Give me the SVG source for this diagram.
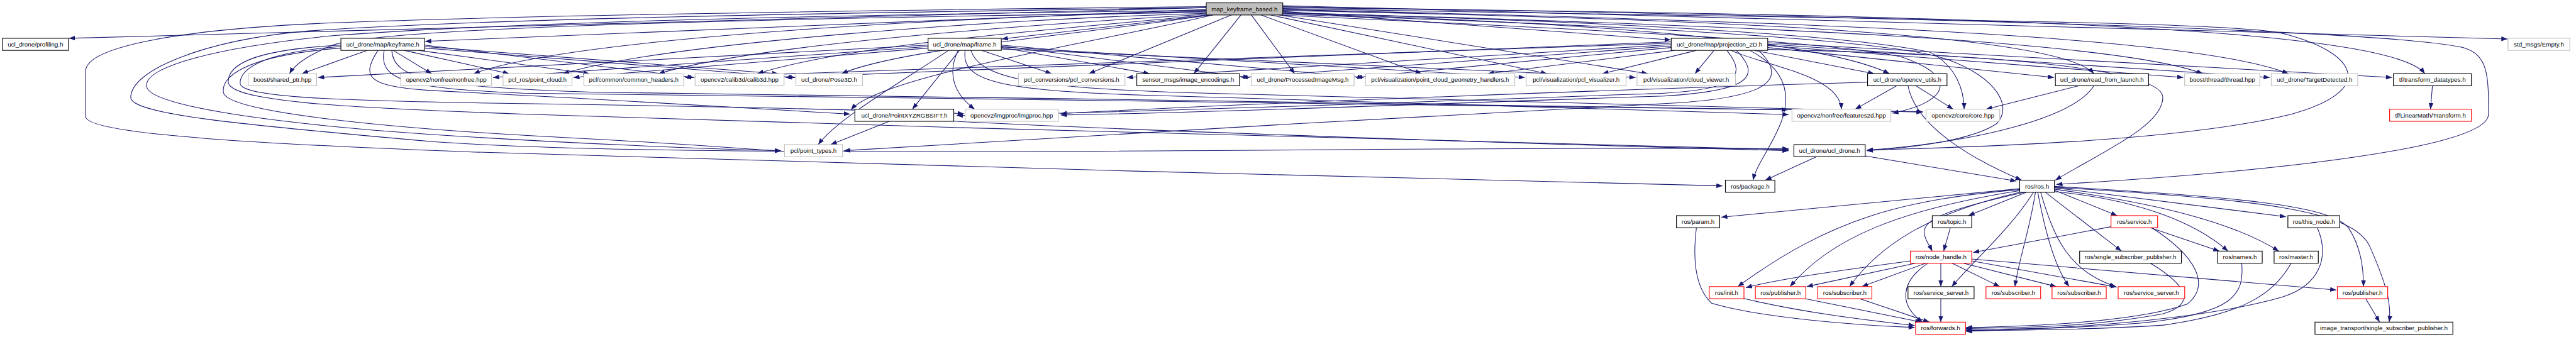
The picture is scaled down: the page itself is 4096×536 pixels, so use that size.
<svg xmlns="http://www.w3.org/2000/svg" width="4096" height="536" viewBox="0 0 4096 536">
<defs>
<marker id="a" markerUnits="userSpaceOnUse" markerWidth="13" markerHeight="10" viewBox="0 0 13 10" refX="13" refY="5" orient="auto"><path d="M0,0 L13,5 L0,10 z" fill="#191970"/></marker>
<style>
.e{fill:none;stroke:#191970;stroke-width:1.4;marker-end:url(#a)}
rect{fill:#fff;stroke-width:1.5}
.doc{stroke:#000}
.ext{stroke:#bfbfbf}
.red{stroke:#ff0000}
.root{fill:#bfbfbf;stroke:#000}
text{font-family:"Liberation Sans",Arial,Helvetica,sans-serif;font-size:13px;text-anchor:middle;fill:#000}
</style>
</defs>
<rect x="0" y="0" width="4096" height="536" fill="#fff" stroke="none"/>
<g transform="scale(0.756)">
<g id="edges">
<path class="e" d="M2537,16 L145,80.5"/>
<path class="e" d="M2537,20 L894,87"/>
<path class="e" d="M2548,31.5 L2107,82"/>
<path class="e" d="M2698,24 L3514,84"/>
<path class="e" d="M2698,12 L5274,82"/>
<path class="e" d="M2590,31.5 L2290,155"/>
<path class="e" d="M2610,31.5 L2511,155"/>
<path class="e" d="M2632,31.5 L2723,155"/>
<path class="e" d="M2652,31.5 L2990,155"/>
<path class="e" d="M2672,31.5 L3254,155"/>
<path class="e" d="M2690,31.5 L3466,155"/>
<path class="e" d="M2698,28 C3300,45 3820,80 3974,155"/>
<path class="e" d="M2698,22 C3600,40 4330,70 4404,155"/>
<path class="e" d="M2698,26 C3700,55 4450,85 4633,155"/>
<path class="e" d="M2698,20 C3800,45 4620,75 4813,155"/>
<path class="e" d="M2698,16 C4000,30 5020,50 5100,155"/>
<path class="e" d="M2698,14 C4300,40 5050,70 5180,100 C5234,115 5234,160 5234,240 C5234,310 4800,360 4325,388"/>
<path class="e" d="M2698,18 C3900,40 4700,45 4800,70 C4960,110 5000,190 4820,240 C4600,295 4200,308 3926,316"/>
<path class="e" d="M2698,30 C3500,55 3950,85 4080,120 C4180,150 4240,215 4200,260 C4140,300 4000,312 3926,317"/>
<path class="e" d="M2698,27 C3400,45 3900,75 4060,110 C4115,140 4131,190 4131,229.7"/>
<path class="e" d="M2698,32 C3300,60 3850,85 4000,120 C4120,160 4100,215 3980,238"/>
<path class="e" d="M2537,26 C1500,40 800,60 700,95 C650,115 620,135 609,155"/>
<path class="e" d="M2537,24 C2000,35 1200,80 996,155"/>
<path class="e" d="M2537,28 C2100,40 1400,90 1184,155"/>
<path class="e" d="M2537,30 C2200,50 1600,90 1385,155"/>
<path class="e" d="M2540,31.5 C2250,60 1800,90 1593,155"/>
<path class="e" d="M2545,31.5 C2300,70 1900,100 1770,155"/>
<path class="e" d="M2552,31.5 C2300,90 1850,160 1790,231"/>
<path class="e" d="M2537,14 C1800,22 1100,32 700,48 C400,60 180,95 180,150 L180,245 C180,285 600,305 1000,320 C1800,345 2800,372 3623,391"/>
<path class="e" d="M2537,16 C1700,28 1000,40 650,65 C420,85 275,150 275,205 C275,240 500,262 910,298 C1500,340 3000,305 3762,313"/>
<path class="e" d="M2537,22 C1800,30 1100,45 700,75 C450,100 308,140 308,180 C308,225 600,262 910,283 C1200,302 1500,314 1643,317"/>
<path class="e" d="M795,106 C760,160 770,182 900,190 C1200,205 1600,228 1788,240"/>
<path class="e" d="M808,106 C795,170 860,186 1100,196 C2000,210 3200,216 3760,231"/>
<path class="e" d="M824,106 C828,165 900,182 1250,194 C2200,208 3600,224 4044,235"/>
<path class="e" d="M717,95 C520,105 480,140 480,172 C480,212 700,226 1100,240 C2000,270 3200,302 3762,315"/>
<path class="e" d="M717,98 C545,110 505,148 505,175 C505,205 700,212 1100,218 C1500,224 1800,230 2027,239"/>
<path class="e" d="M717,101 C505,118 465,165 470,195 C478,235 800,270 1200,290 C1450,303 1550,312 1643,318"/>
<path class="e" d="M772,106 L635,155"/>
<path class="e" d="M827,106 L908,155"/>
<path class="e" d="M850,106 L1071,155"/>
<path class="e" d="M880,106 L1240,155"/>
<path class="e" d="M893,98 L1637,155"/>
<path class="e" d="M893,101 L1672,163"/>
<path class="e" d="M893,95 L1459,163"/>
<path class="e" d="M1952,95 L669,163"/>
<path class="e" d="M1952,98 L1037,163"/>
<path class="e" d="M1952,101 L1206,163"/>
<path class="e" d="M2018,106 L1919,229.7"/>
<path class="e" d="M2015,106 C1990,160 2010,200 2050,229.7"/>
<path class="e" d="M1995,106 C1900,170 1760,250 1721,304.3"/>
<path class="e" d="M2065,106 L2212,155"/>
<path class="e" d="M2106,100 L2418,155"/>
<path class="e" d="M2106,97 L2628,163"/>
<path class="e" d="M2106,95 L2868,163"/>
<path class="e" d="M2106,99 L3207,163"/>
<path class="e" d="M2106,103 L3440,163"/>
<path class="e" d="M2030,106 C2020,170 2100,190 2400,200 C3000,215 3500,236 3762,241"/>
<path class="e" d="M2042,106 C2060,160 2150,185 2500,195 C3200,210 3800,228 4044,236"/>
<path class="e" d="M3605,106 L3565,155"/>
<path class="e" d="M3568,106 L3370,155"/>
<path class="e" d="M3522,106 L3129,155"/>
<path class="e" d="M3515,100 L2852,163"/>
<path class="e" d="M3515,97 L2611,163"/>
<path class="e" d="M3515,94 L2370,163"/>
<path class="e" d="M3515,91 L1441,163"/>
<path class="e" d="M3515,88 L1652,163"/>
<path class="e" d="M3690,106 L3942,155"/>
<path class="e" d="M3718,100 L4320,163"/>
<path class="e" d="M3718,96 L4592,163"/>
<path class="e" d="M3718,93 L4774,163"/>
<path class="e" d="M3718,90 L5031,163"/>
<path class="e" d="M3640,106 C3720,140 3870,160 3873,229.7"/>
<path class="e" d="M3680,106 C3765,150 3765,210 3745,260 C3725,310 3695,345 3687,379"/>
<path class="e" d="M3632,106 C3680,165 3640,188 3500,196 C3000,214 2400,236 2012,243"/>
<path class="e" d="M3652,106 C3710,165 3670,192 3500,202 C3000,218 2600,236 2231,242"/>
<path class="e" d="M3699,106 C3770,175 3700,208 3500,218 C3000,242 2200,292 1775,317"/>
<path class="e" d="M3718,104 C4250,115 4549,150 4549,205 C4549,265 4420,320 4323,379"/>
<path class="e" d="M3928,173 C3500,185 2600,218 2231,239"/>
<path class="e" d="M3989,180.5 L3902,229.7"/>
<path class="e" d="M4030,180.5 L4108,229.7"/>
<path class="e" d="M4013,180.5 C4030,270 4160,340 4252,379"/>
<path class="e" d="M4372,180.5 L4177,229.7"/>
<path class="e" d="M4404,180.5 C4360,250 4150,300 3926,316"/>
<path class="e" d="M5116,180.5 L5112,229.7"/>
<path class="e" d="M1870,255.2 L1747,304.3"/>
<path class="e" d="M2006,255 C2500,280 3300,305 3762,317"/>
<path class="e" d="M3820,330 L3713,379"/>
<path class="e" d="M3923,328 L4241,381"/>
<path class="e" d="M4248,397 L3620,457"/>
<path class="e" d="M4248,399 C4000,420 3850,460 3655,603"/>
<path class="e" d="M4248,401 C4000,440 3850,500 3765,603"/>
<path class="e" d="M4250,404 C4050,450 3950,520 3890,603"/>
<path class="e" d="M4258,404.5 C4100,440 4045,460 4047,490 C4049,506 4058,516 4064,528.3"/>
<path class="e" d="M4262,404.5 L4140,453.7"/>
<path class="e" d="M4277,404.5 C4230,480 4150,550 4105,603"/>
<path class="e" d="M4281,404.5 C4270,480 4245,550 4238,603"/>
<path class="e" d="M4286,404.5 C4300,480 4320,560 4352,603"/>
<path class="e" d="M4292,404.5 C4320,500 4350,570 4450,603"/>
<path class="e" d="M4302,404.5 L4462,528.3"/>
<path class="e" d="M4321,400 L4453,453.7"/>
<path class="e" d="M4321,403 C4500,420 4620,470 4686,528.3"/>
<path class="e" d="M4321,398 C4550,430 4700,470 4793,528.3"/>
<path class="e" d="M4321,395 L4808,456"/>
<path class="e" d="M4321,392 C4700,415 4900,430 4940,480 C4965,520 4971,560 4971,603"/>
<path class="e" d="M4321,394 C4750,420 4950,440 4985,520 C5020,600 5030,640 5025,677.7"/>
<path class="e" d="M4102,479.2 L4088,528.3"/>
<path class="e" d="M4440,477 L4150,531"/>
<path class="e" d="M4523,479.2 L4668,528.3"/>
<path class="e" d="M4526,479.2 C4620,540 4650,600 4600,640 C4500,675 4300,686 4135,689"/>
<path class="e" d="M4018,549 C3900,565 3750,585 3672,605"/>
<path class="e" d="M4028,553.8 L3800,603"/>
<path class="e" d="M4050,553.8 L3916,603"/>
<path class="e" d="M4082,553.8 L4082,603"/>
<path class="e" d="M4106,553.8 L4206,603"/>
<path class="e" d="M4130,553.8 L4325,603"/>
<path class="e" d="M4147,549 L4452,604"/>
<path class="e" d="M4055,553.8 C4000,590 3990,640 4044,677.7"/>
<path class="e" d="M4147,545 L4914,610"/>
<path class="e" d="M3668,628 C3800,660 3950,676 4027,685"/>
<path class="e" d="M3798,628.5 L4041,677.7"/>
<path class="e" d="M3912,628.5 L4058,677.7"/>
<path class="e" d="M4082,628.5 L4082,677.7"/>
<path class="e" d="M3568,479.2 C3558,560 3570,610 3600,638 C3700,668 3900,684 4027,689"/>
<path class="e" d="M4523,553.8 C4600,600 4620,640 4550,660 C4400,688 4250,690 4135,691"/>
<path class="e" d="M4715,553.8 C4720,620 4700,660 4500,680 C4350,692 4200,693 4135,693"/>
<path class="e" d="M4819,553.8 C4780,620 4720,660 4550,684 C4400,694 4250,695 4135,695"/>
<path class="e" d="M4874,479.2 C4900,540 4880,600 4800,625 C4650,668 4400,690 4135,697"/>
<path class="e" d="M4976,628.5 L5005,677.7"/>
</g>
<g id="n_root"><rect class="root" x="2537" y="6" width="161" height="25.5"/><text x="2617.5" y="23.3">map_keyframe_based.h</text></g>
<g id="n_profiling"><rect class="doc" x="5" y="80.5" width="139" height="25.5"/><text x="74.5" y="97.8">ucl_drone/profiling.h</text></g>
<g id="n_keyframe"><rect class="doc" x="717" y="80.5" width="176" height="25.5"/><text x="805" y="97.8">ucl_drone/map/keyframe.h</text></g>
<g id="n_frame"><rect class="doc" x="1952" y="80.5" width="154" height="25.5"/><text x="2029" y="97.8">ucl_drone/map/frame.h</text></g>
<g id="n_projection"><rect class="doc" x="3515" y="80.5" width="203" height="25.5"/><text x="3616.5" y="97.8">ucl_drone/map/projection_2D.h</text></g>
<g id="n_empty"><rect class="ext" x="5275" y="80.5" width="130" height="25.5"/><text x="5340" y="97.8">std_msgs/Empty.h</text></g>
<g id="n_shared_ptr"><rect class="ext" x="522" y="155" width="144" height="25.5"/><text x="594" y="172.3">boost/shared_ptr.hpp</text></g>
<g id="n_nonfree"><rect class="ext" x="843" y="155" width="191" height="25.5"/><text x="938.5" y="172.3">opencv2/nonfree/nonfree.hpp</text></g>
<g id="n_point_cloud"><rect class="ext" x="1058" y="155" width="145" height="25.5"/><text x="1130.5" y="172.3">pcl_ros/point_cloud.h</text></g>
<g id="n_common_headers"><rect class="ext" x="1228" y="155" width="210" height="25.5"/><text x="1333" y="172.3">pcl/common/common_headers.h</text></g>
<g id="n_calib3d"><rect class="ext" x="1462" y="155" width="187" height="25.5"/><text x="1555.5" y="172.3">opencv2/calib3d/calib3d.hpp</text></g>
<g id="n_pose3d"><rect class="ext" x="1674" y="155" width="140" height="25.5"/><text x="1744" y="172.3">ucl_drone/Pose3D.h</text></g>
<g id="n_pcl_conversions"><rect class="ext" x="2142" y="155" width="224" height="25.5"/><text x="2254" y="172.3">pcl_conversions/pcl_conversions.h</text></g>
<g id="n_image_encodings"><rect class="doc" x="2391" y="155" width="216" height="25.5"/><text x="2499" y="172.3">sensor_msgs/image_encodings.h</text></g>
<g id="n_processed"><rect class="ext" x="2632" y="155" width="216" height="25.5"/><text x="2740" y="172.3">ucl_drone/ProcessedImageMsg.h</text></g>
<g id="n_geometry"><rect class="ext" x="2872" y="155" width="314" height="25.5"/><text x="3029" y="172.3">pcl/visualization/point_cloud_geometry_handlers.h</text></g>
<g id="n_pcl_visualizer"><rect class="ext" x="3210" y="155" width="210" height="25.5"/><text x="3315" y="172.3">pcl/visualization/pcl_visualizer.h</text></g>
<g id="n_cloud_viewer"><rect class="ext" x="3443" y="155" width="207" height="25.5"/><text x="3546.5" y="172.3">pcl/visualization/cloud_viewer.h</text></g>
<g id="n_opencv_utils"><rect class="doc" x="3928" y="155" width="167" height="25.5"/><text x="4011.5" y="172.3">ucl_drone/opencv_utils.h</text></g>
<g id="n_read_from_launch"><rect class="doc" x="4323" y="155" width="196" height="25.5"/><text x="4421" y="172.3">ucl_drone/read_from_launch.h</text></g>
<g id="n_thread"><rect class="ext" x="4595" y="155" width="158" height="25.5"/><text x="4674" y="172.3">boost/thread/thread.hpp</text></g>
<g id="n_target"><rect class="ext" x="4777" y="155" width="182" height="25.5"/><text x="4868" y="172.3">ucl_drone/TargetDetected.h</text></g>
<g id="n_transform_datatypes"><rect class="doc" x="5034" y="155" width="164" height="25.5"/><text x="5116" y="172.3">tf/transform_datatypes.h</text></g>
<g id="n_sift"><rect class="doc" x="1798" y="229.7" width="208" height="25.5"/><text x="1902" y="247">ucl_drone/PointXYZRGBSIFT.h</text></g>
<g id="n_imgproc"><rect class="ext" x="2030" y="229.7" width="196" height="25.5"/><text x="2128" y="247">opencv2/imgproc/imgproc.hpp</text></g>
<g id="n_features2d"><rect class="ext" x="3769" y="229.7" width="208" height="25.5"/><text x="3873" y="247">opencv2/nonfree/features2d.hpp</text></g>
<g id="n_core"><rect class="ext" x="4051" y="229.7" width="155" height="25.5"/><text x="4128.5" y="247">opencv2/core/core.hpp</text></g>
<g id="n_transform"><rect class="red" x="5026" y="229.7" width="172" height="25.5"/><text x="5112" y="247">tf/LinearMath/Transform.h</text></g>
<g id="n_point_types"><rect class="ext" x="1650" y="304.3" width="122" height="25.5"/><text x="1711" y="321.6">pcl/point_types.h</text></g>
<g id="n_ucl_drone"><rect class="doc" x="3773" y="304.3" width="150" height="25.5"/><text x="3848" y="321.6">ucl_drone/ucl_drone.h</text></g>
<g id="n_package"><rect class="doc" x="3629" y="379" width="104" height="25.5"/><text x="3681" y="396.3">ros/package.h</text></g>
<g id="n_ros"><rect class="doc" x="4248" y="379" width="73" height="25.5"/><text x="4284.5" y="396.3">ros/ros.h</text></g>
<g id="n_param"><rect class="doc" x="3526" y="453.7" width="91" height="25.5"/><text x="3571.5" y="471">ros/param.h</text></g>
<g id="n_topic"><rect class="doc" x="4064" y="453.7" width="83" height="25.5"/><text x="4105.5" y="471">ros/topic.h</text></g>
<g id="n_service"><rect class="red" x="4440" y="453.7" width="98" height="25.5"/><text x="4489" y="471">ros/service.h</text></g>
<g id="n_this_node"><rect class="doc" x="4812" y="453.7" width="109" height="25.5"/><text x="4866.5" y="471">ros/this_node.h</text></g>
<g id="n_node_handle"><rect class="red" x="4018" y="528.3" width="129" height="25.5"/><text x="4082.5" y="545.6">ros/node_handle.h</text></g>
<g id="n_ssp"><rect class="doc" x="4374" y="528.3" width="214" height="25.5"/><text x="4481" y="545.6">ros/single_subscriber_publisher.h</text></g>
<g id="n_names"><rect class="doc" x="4664" y="528.3" width="94" height="25.5"/><text x="4711" y="545.6">ros/names.h</text></g>
<g id="n_master"><rect class="doc" x="4783" y="528.3" width="93" height="25.5"/><text x="4829.5" y="545.6">ros/master.h</text></g>
<g id="n_init"><rect class="red" x="3595" y="603" width="73" height="25.5"/><text x="3631.5" y="620.3">ros/init.h</text></g>
<g id="n_publisher1"><rect class="red" x="3692" y="603" width="106" height="25.5"/><text x="3745" y="620.3">ros/publisher.h</text></g>
<g id="n_subscriber1"><rect class="red" x="3823" y="603" width="114" height="25.5"/><text x="3880" y="620.3">ros/subscriber.h</text></g>
<g id="n_service_server1"><rect class="doc" x="4013" y="603" width="139" height="25.5"/><text x="4082.5" y="620.3">ros/service_server.h</text></g>
<g id="n_subscriber2"><rect class="red" x="4177" y="603" width="115" height="25.5"/><text x="4234.5" y="620.3">ros/subscriber.h</text></g>
<g id="n_subscriber3"><rect class="red" x="4316" y="603" width="114" height="25.5"/><text x="4373" y="620.3">ros/subscriber.h</text></g>
<g id="n_service_server2"><rect class="red" x="4455" y="603" width="140" height="25.5"/><text x="4525" y="620.3">ros/service_server.h</text></g>
<g id="n_publisher2"><rect class="red" x="4916" y="603" width="106" height="25.5"/><text x="4969" y="620.3">ros/publisher.h</text></g>
<g id="n_forwards"><rect class="red" x="4029" y="677.7" width="105" height="25.5"/><text x="4081.5" y="695">ros/forwards.h</text></g>
<g id="n_it_ssp"><rect class="doc" x="4869" y="677.7" width="290" height="25.5"/><text x="5014" y="695">image_transport/single_subscriber_publisher.h</text></g>
</g>
</svg>
